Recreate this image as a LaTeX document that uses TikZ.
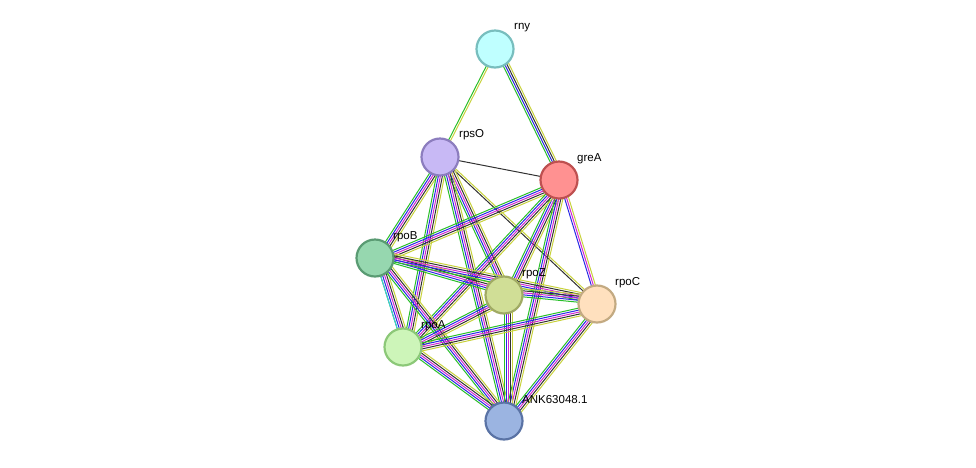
\documentclass[tikz,border=0pt]{standalone}
\usepackage{fontspec}
\setmainfont{Liberation Sans}
\usetikzlibrary{calc}
\definecolor{egreen}{RGB}{40,190,40}
\definecolor{eblue}{RGB}{40,40,230}
\definecolor{emag}{RGB}{210,40,210}
\definecolor{eyel}{RGB}{200,210,60}
\definecolor{ecyan}{RGB}{60,200,220}
\definecolor{eblack}{RGB}{50,50,50}
\tikzset{
  prot/.style={circle, minimum size=37pt, line width=2.2pt, inner sep=0pt},
  plabel/.style={font=\fontsize{11.5}{13}\selectfont, anchor=west, inner sep=1pt},
}
% bundle of parallel coloured lines between two nodes
\newcommand{\bundle}[3]{%
  \foreach \c [count=\i] in {#3}{%
    \pgfmathsetmacro{\off}{(\i-1)*2}%
    \draw[\c, line width=1pt]
      ($(#1)!\off pt!90:(#2)$) -- ($(#2)!\off pt!-90:(#1)$);
  }%
}
\begin{document}
\begin{tikzpicture}[x=1pt,y=1pt]
\useasboundingbox (0,0) rectangle (976,-467);
% node positions
\coordinate (rny) at (495,-49);
\coordinate (rpsO) at (440,-157);
\coordinate (greA) at (559,-180);
\coordinate (rpoB) at (375,-258);
\coordinate (rpoZ) at (504,-295);
\coordinate (rpoC) at (597,-304);
\coordinate (rpoA) at (403,-347);
\coordinate (ANK) at (504,-421);
% edges
\bundle{rny}{rpsO}{egreen,eyel}
\bundle{rny}{greA}{egreen,eblue,eblack,eyel}
\bundle{rpsO}{greA}{eblack}
\bundle{rpsO}{rpoC}{eblack,eyel}
\foreach \a/\b in {rpsO/rpoB,rpsO/rpoZ,rpsO/rpoA,rpsO/ANK,
    greA/rpoB,greA/rpoZ,greA/rpoA,greA/ANK,
    rpoB/rpoZ,rpoB/rpoC,rpoB/rpoA,rpoB/ANK,
    rpoZ/rpoC,rpoZ/rpoA,rpoZ/ANK,
    rpoC/rpoA,rpoC/ANK,rpoA/ANK}
  {\bundle{\a}{\b}{egreen,eblue,emag,eblack,eyel}}
\bundle{greA}{rpoC}{eblue,emag,eyel}
\bundle{rpoB}{rpoA}{ecyan}
% proteins
\node[prot, fill={rgb,255:red,191;green,255;blue,255}, draw={rgb,255:red,120;green,190;blue,190}] (nrny) at (rny) {};
\node[prot, fill={rgb,255:red,200;green,185;blue,245}, draw={rgb,255:red,140;green,125;blue,190}] (nrpsO) at (rpsO) {};
\node[prot, fill={rgb,255:red,255;green,145;blue,145}, draw={rgb,255:red,190;green,80;blue,80}] (ngreA) at (greA) {};
\node[prot, fill={rgb,255:red,150;green,215;blue,175}, draw={rgb,255:red,90;green,155;blue,115}] (nrpoB) at (rpoB) {};
\node[prot, fill={rgb,255:red,208;green,222;blue,150}, draw={rgb,255:red,160;green,170;blue,100}] (nrpoZ) at (rpoZ) {};
\node[prot, fill={rgb,255:red,255;green,224;blue,190}, draw={rgb,255:red,195;green,170;blue,130}] (nrpoC) at (rpoC) {};
\node[prot, fill={rgb,255:red,205;green,245;blue,185}, draw={rgb,255:red,140;green,200;blue,120}] (nrpoA) at (rpoA) {};
\node[prot, fill={rgb,255:red,155;green,180;blue,225}, draw={rgb,255:red,90;green,115;blue,165}] (nANK) at (ANK) {};
% labels
\node[plabel] at ($(rny)+(18,21)$) {rny};
\node[plabel] at ($(rpsO)+(18,22)$) {rpsO};
\node[plabel] at ($(greA)+(17,21)$) {greA};
\node[plabel] at ($(rpoB)+(17,21)$) {rpoB};
\node[plabel] at ($(rpoZ)+(17,21)$) {rpoZ};
\node[plabel] at ($(rpoC)+(17,21)$) {rpoC};
\node[plabel] at ($(rpoA)+(17,21)$) {rpoA};
\node[plabel] at ($(ANK)+(17,21)$) {ANK63048.1};
\end{tikzpicture}
\end{document}
